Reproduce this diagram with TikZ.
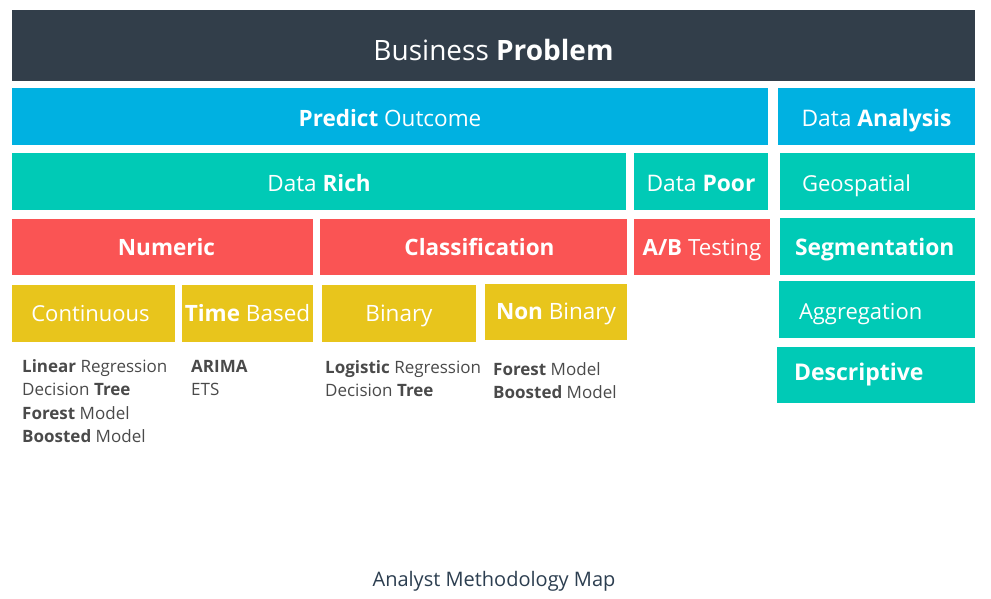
\documentclass[tikz,border=0pt]{standalone}
\usepackage{fontspec}
\setmainfont{Open Sans}
\definecolor{cdark}{HTML}{323E4A}
\definecolor{cblue}{HTML}{00B1E1}
\definecolor{cteal}{HTML}{00CAB6}
\definecolor{cred}{HTML}{FA5454}
\definecolor{cyel}{HTML}{E8C51C}
\definecolor{clist}{HTML}{4A4A4A}
\definecolor{ccap}{HTML}{2C3E50}
\newcommand\bx[7]{%
  \node[#6, minimum width={#4-#2}, minimum height={#5-#3}] (#1) at ({(#2+#4)/2},{(#3+#5)/2}) {#7};}
\begin{document}
\begin{tikzpicture}[x=1pt,y=-1pt,
  boxc/.style={inner sep=0pt, outer sep=0pt, text=white, align=center, text depth=0pt},
  boxl/.style={boxc, align=left},
  fs/.style={font=\fontsize{#1}{#1}\selectfont},
  bl/.style={text height=#1},
  li/.style={anchor=base west, inner sep=0pt, text=clist, font=\fontsize{17}{20}\selectfont}]
\useasboundingbox (0,0) rectangle (991,598);
\bx{bp}{12}{10}{975}{81}{boxc, fill=cdark, fs=28, bl=29}{Business \textbf{Problem}}
\bx{po}{12}{88}{768}{145}{boxc, fill=cblue, fs=22.5, bl=19}{\textbf{Predict} Outcome}
\bx{da}{778}{88}{975}{145}{boxc, fill=cblue, fs=22.8, bl=19}{Data \textbf{Analysis}}
\bx{dr}{12}{153}{626}{210}{boxc, fill=cteal, fs=22.5, bl=19}{Data \textbf{Rich}}
\bx{dp}{634}{153}{768}{210}{boxc, fill=cteal, fs=22.8, bl=19}{Data \textbf{Poor}}
\bx{geo}{780}{153}{975}{210}{boxl, fill=cteal, fs=22, bl=19, text width=151pt}{Geospatial}
\bx{num}{12}{219}{313}{275}{boxc, fill=cred, fs=22.5, bl=16}{\hspace*{8pt}\textbf{Numeric}}
\bx{cls}{320}{219}{627}{275}{boxc, fill=cred, fs=22.5, bl=16}{\hspace*{12pt}\textbf{Classification}}
\bx{ab}{634}{219}{770}{275}{boxc, fill=cred, fs=22.3, bl=16}{\textbf{A/B} Testing}
\bx{seg}{780}{218}{975}{275}{boxl, fill=cteal, fs=22.8, bl=18, text width=165pt}{\textbf{Segmentation}}
\bx{con}{12}{285}{175}{342}{boxc, fill=cyel, fs=22, bl=16}{Continuous\hspace*{6pt}}
\bx{tb}{182}{285}{313}{342}{boxc, fill=cyel, fs=22.5, bl=15}{\textbf{Time} Based}
\bx{bin}{322}{285}{476}{342}{boxc, fill=cyel, fs=22.5, bl=16}{Binary}
\bx{nb}{485}{284}{627}{340}{boxc, fill=cyel, fs=22.5, bl=14}{\textbf{Non} Binary}
\bx{agg}{779}{281}{975}{338}{boxl, fill=cteal, fs=22, bl=19, text width=156pt}{Aggregation}
\bx{des}{777}{347}{975}{403}{boxl, fill=cteal, fs=23, bl=10, text width=164pt}{\textbf{Descriptive}}
% lists
\node[li] (c1a) at (22,372) {\textbf{Linear} Regression};
\node[li] (c1b) at (22,395.5) {Decision \textbf{Tree}};
\node[li] (c1c) at (22,419) {\textbf{Forest} Model};
\node[li] (c1d) at (22,442) {\textbf{Boosted} Model};
\node[li] (c2a) at (191,372) {\textbf{ARIMA}};
\node[li] (c2b) at (191,395.5) {ETS};
\node[li] (c3a) at (325,373) {\textbf{Logistic} Regression};
\node[li] (c3b) at (325,396.5) {Decision \textbf{Tree}};
\node[li] (c4a) at (493,375) {\textbf{Forest} Model};
\node[li] (c4b) at (493,398.5) {\textbf{Boosted} Model};
\node[anchor=base, inner sep=0pt, text=ccap, font=\fontsize{20}{22}\selectfont] (cap) at (494,586) {Analyst Methodology Map};
\end{tikzpicture}
\end{document}
